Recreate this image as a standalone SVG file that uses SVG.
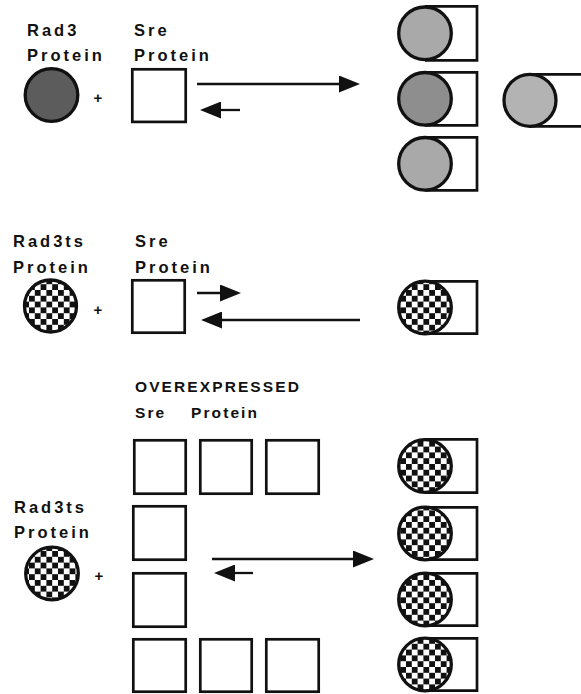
<svg xmlns="http://www.w3.org/2000/svg" width="581" height="694" viewBox="0 0 581 694">
  <style>
    .lbl { font-family: "Liberation Sans", Arial, sans-serif; font-weight: bold; font-size: 16.5px; letter-spacing: 3px; fill: #111; }
    .lbl2 { font-family: "Liberation Sans", Arial, sans-serif; font-weight: bold; font-size: 15.5px; letter-spacing: 2.1px; fill: #111; }
    .plus { font-family: "Liberation Sans", Arial, sans-serif; font-weight: bold; font-size: 15px; fill: #111; text-anchor: middle; }
    .sq { fill: #fff; stroke: #111; stroke-width: 2.7; }
    .rad { stroke: #111; stroke-width: 3.3; }
    .dark { fill: #5c5c5c; }
    .grey { fill: #a9a9a9; }
    .grey2 { fill: #8e8e8e; }
    .grey3 { fill: #b3b3b3; }
    .ts { fill: url(#checker); }
    .tail { fill: #fff; stroke: #111; stroke-width: 2.7; }
    .arr { fill: none; stroke: #111; stroke-width: 2.3; marker-end: url(#head); }
  </style>
  <defs>
    <pattern id="checker" patternUnits="userSpaceOnUse" width="11.6" height="11.6">
      <rect width="11.6" height="11.6" fill="#fff"/>
      <rect width="5.8" height="5.8" fill="#111"/>
      <rect x="5.8" y="5.8" width="5.8" height="5.8" fill="#111"/>
    </pattern>
    <marker id="head" markerUnits="userSpaceOnUse" viewBox="0 0 21 17" refX="10" refY="8.5" markerWidth="21" markerHeight="17" orient="auto">
      <path d="M0,0 L21,8.5 L0,17 z" fill="#111"/>
    </marker>
  </defs>

  <!-- labels -->
  <g id="labels">
    <text class="lbl" x="27" y="36">Rad3</text>
    <text class="lbl" x="27" y="61">Protein</text>
    <text class="lbl" x="134" y="36">Sre</text>
    <text class="lbl" x="134" y="61">Protein</text>

    <text class="lbl" x="13" y="247">Rad3ts</text>
    <text class="lbl" x="13" y="273">Protein</text>
    <text class="lbl" x="135" y="247">Sre</text>
    <text class="lbl" x="135" y="273">Protein</text>

    <text class="lbl2" x="135" y="392">OVEREXPRESSED</text>
    <text class="lbl2" x="135" y="418">Sre</text>
    <text class="lbl2" x="191" y="418">Protein</text>
    <text class="lbl" x="14" y="513">Rad3ts</text>
    <text class="lbl" x="14" y="538">Protein</text>

    <text class="plus" x="98" y="103">+</text>
    <text class="plus" x="98" y="315">+</text>
    <text class="plus" x="99" y="581">+</text>
  </g>

  <!-- reaction 1: Rad3 + Sre -->
  <g id="rad3-1"><circle class="rad dark" cx="51.5" cy="95" r="26.3"/></g>
  <g id="sre-1"><rect class="sq" x="132.3" y="69.3" width="53.4" height="52.6"/></g>
  <g id="complex-1a">
    <path class="tail" d="M425,6.3 H477 V60.3 H425"/>
    <circle class="rad grey" cx="425" cy="33.3" r="26.3"/>
  </g>
  <g id="complex-1b">
    <path class="tail" d="M425,72.3 H477 V125.3 H425"/>
    <circle class="rad grey2" cx="425" cy="98.8" r="26.3"/>
  </g>
  <g id="complex-1c">
    <path class="tail" d="M425,137.3 H477 V190.3 H425"/>
    <circle class="rad grey" cx="425" cy="163.8" r="26.3"/>
  </g>
  <g id="complex-1d">
    <path class="tail" d="M530,74.3 H585 M585,126.3 H530"/>
    <circle class="rad grey3" cx="530" cy="100.3" r="26"/>
  </g>

  <!-- reaction 2: Rad3ts + Sre -->
  <g id="rad3ts-2"><circle class="rad ts" cx="50.5" cy="306" r="26"/></g>
  <g id="sre-2"><rect class="sq" x="132.3" y="280.3" width="52.4" height="52.4"/></g>
  <g id="complex-2">
    <path class="tail" d="M425,281.3 H477 V333.7 H425"/>
    <circle class="rad ts" cx="425" cy="307.5" r="26.3"/>
  </g>

  <!-- reaction 3: Rad3ts + overexpressed Sre -->
  <g id="rad3ts-3"><circle class="rad ts" cx="52" cy="573.5" r="26.3"/></g>
  <g id="sre-3a"><rect class="sq" x="134.3" y="440.3" width="51.4" height="53.4"/></g>
  <g id="sre-3b"><rect class="sq" x="200.3" y="440.3" width="51.4" height="53.4"/></g>
  <g id="sre-3c"><rect class="sq" x="266.3" y="440.3" width="52.4" height="53.4"/></g>
  <g id="sre-3d"><rect class="sq" x="133.3" y="506.3" width="52.4" height="53.4"/></g>
  <g id="sre-3e"><rect class="sq" x="133.3" y="573.3" width="52.4" height="53.4"/></g>
  <g id="sre-3f"><rect class="sq" x="133.3" y="639.3" width="52.4" height="52.4"/></g>
  <g id="sre-3g"><rect class="sq" x="200.3" y="639.3" width="51.4" height="52.4"/></g>
  <g id="sre-3h"><rect class="sq" x="266.3" y="639.3" width="52.4" height="52.4"/></g>
  <g id="complex-3a">
    <path class="tail" d="M425,439.3 H477 V492.7 H425"/>
    <circle class="rad ts" cx="425" cy="466" r="26.3"/>
  </g>
  <g id="complex-3b">
    <path class="tail" d="M425,507.3 H477 V559.7 H425"/>
    <circle class="rad ts" cx="425" cy="533.5" r="26.3"/>
  </g>
  <g id="complex-3c">
    <path class="tail" d="M425,573.3 H477 V625.7 H425"/>
    <circle class="rad ts" cx="425" cy="599.5" r="26.3"/>
  </g>
  <g id="complex-3d">
    <path class="tail" d="M425,638.3 H477 V690.7 H425"/>
    <circle class="rad ts" cx="425" cy="664.5" r="26.3"/>
  </g>

  <!-- equilibrium arrows -->
  <g id="connectors">
    <path class="arr" d="M197,84 H349"/>
    <path class="arr" d="M240,110 H211"/>

    <path class="arr" d="M197,293 H230"/>
    <path class="arr" d="M360,320 H212"/>

    <path class="arr" d="M212,559 H363"/>
    <path class="arr" d="M253,573 H225"/>
  </g>
</svg>
